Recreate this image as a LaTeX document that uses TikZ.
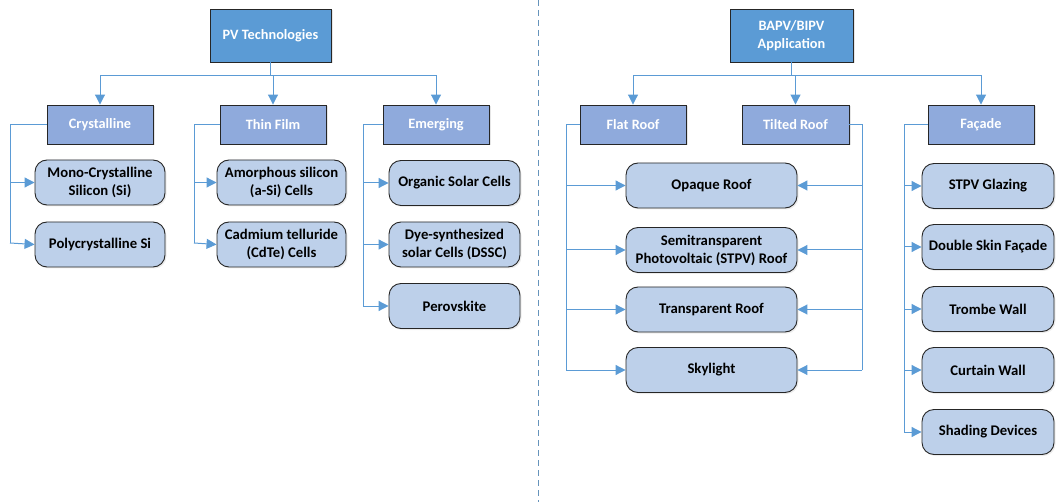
\documentclass[tikz,border=0pt]{standalone}
\usepackage{fontspec}
\setmainfont{Carlito}
\usetikzlibrary{arrows.meta,shadows}
\definecolor{topblue}{HTML}{5B9BD5}
\definecolor{catblue}{HTML}{8FAADC}
\definecolor{leafblue}{HTML}{BDD0EA}
\definecolor{linkblue}{HTML}{5B9BD5}
\begin{document}
\begin{tikzpicture}[x=1pt,y=-1pt,
  every node/.style={font=\fontsize{14.3}{18}\selectfont\bfseries},
  topbox/.style={draw=black!85,line width=0.9pt,fill=topblue,text=white,minimum width=121pt,minimum height=53pt,align=center,drop shadow={opacity=0.2,shadow xshift=1.5pt,shadow yshift=-1.5pt}},
  catbox/.style={draw=black!85,line width=0.9pt,fill=catblue,text=white,minimum width=106pt,minimum height=39pt,drop shadow={opacity=0.2,shadow xshift=1.5pt,shadow yshift=-1.5pt}},
  leafbox/.style={draw=black!85,line width=0.9pt,fill=leafblue,text=black,rounded corners=12pt,minimum height=45pt,inner xsep=2pt,align=center,font=\fontsize{14.7}{18}\selectfont\bfseries,drop shadow={opacity=0.15,shadow xshift=1.5pt,shadow yshift=-1.5pt}},
  link/.style={draw=linkblue,line width=1pt},
  arr/.style={link,-{Triangle[length=10pt,width=10pt]}}
]
\useasboundingbox (0,0) rectangle (1056,502);
\draw[linkblue!70!gray,dashed,line width=0.8pt,dash pattern=on 6pt off 4pt] (538,0) -- (538,502);

% ---------- left tree ----------
\node[topbox] (pv) at (270.5,35.5) {PV Technologies};
\node[catbox] (cry) at (100,124.5) {Crystalline};
\node[catbox] (thin) at (273,124.5) {Thin Film};
\node[catbox] (eme) at (436,124.5) {Emerging};

\node[leafbox,minimum width=130pt] (mono) at (100,182.5) {Mono-Crystalline\\Silicon (Si)};
\node[leafbox,minimum width=130pt] (poly) at (100,244.5) {Polycrystalline Si};
\node[leafbox,minimum width=129pt] (amor) at (281.5,182.5) {Amorphous silicon\\(a-Si) Cells};
\node[leafbox,minimum width=129pt] (cdte) at (281.5,244.5) {Cadmium telluride\\(CdTe) Cells};
\node[leafbox,minimum width=131pt] (org) at (454.5,183) {Organic Solar Cells};
\node[leafbox,minimum width=131pt] (dye) at (454.5,244.5) {Dye-synthesized\\solar Cells (DSSC)};
\node[leafbox,minimum width=131pt] (per) at (454.5,306) {Perovskite};

\draw[link] (pv.south) -- (270.5,76) coordinate (pvb);
\draw[arr] (pvb) -| (cry.north);
\draw[arr] (pvb) -| (thin.north);
\draw[arr] (pvb) -| (eme.north);

\draw[link] (cry.west) -| (10,243) coordinate (cryb);
\draw[arr] (10,124.5) |- (mono.west);
\draw[arr] (cryb) -- (poly.west);

\draw[link] (thin.west) -| (194,243) coordinate (thinb);
\draw[arr] (194,124.5) |- (amor.west);
\draw[arr] (thinb) -- (cdte.west);

\draw[link] (eme.west) -| (363,306) coordinate (emeb);
\draw[arr] (363,124.5) |- (org.west);
\draw[arr] (363,124.5) |- (dye.west);
\draw[arr] (emeb) -- (per.west);

% ---------- right tree ----------
\node[topbox,minimum width=123pt] (bapv) at (791.5,35.5) {BAPV/BIPV\\Application};
\node[catbox] (flat) at (633,124.5) {Flat Roof};
\node[catbox,minimum width=107pt] (tilt) at (795.5,124.5) {Tilted Roof};
\node[catbox] (fac) at (981,124.5) {Façade};

\node[leafbox,minimum width=171pt] (opq) at (711.5,185.5) {Opaque Roof};
\node[leafbox,minimum width=171pt] (semi) at (711.5,250) {Semitransparent\\Photovoltaic (STPV) Roof};
\node[leafbox,minimum width=171pt] (trans) at (711.5,309.5) {Transparent Roof};
\node[leafbox,minimum width=171pt] (sky) at (711.5,370) {Skylight};

\node[leafbox,minimum width=132pt] (stpv) at (988,186) {STPV Glazing};
\node[leafbox,minimum width=132pt] (dsf) at (988,247) {Double Skin Façade};
\node[leafbox,minimum width=132pt] (tw) at (988,309) {Trombe Wall};
\node[leafbox,minimum width=132pt] (cw) at (988,370) {Curtain Wall};
\node[leafbox,minimum width=132pt] (sd) at (988,432) {Shading Devices};

\draw[link] (bapv.south) -- (791.5,76) coordinate (bb);
\draw[arr] (bb) -| (flat.north);
\draw[arr] (bb) -| (tilt.north);
\draw[arr] (bb) -| (fac.north);

\draw[link] (flat.west) -| (566,370) coordinate (flb);
\draw[arr] (566,124.5) |- (opq.west);
\draw[arr] (566,124.5) |- (semi.west);
\draw[arr] (566,124.5) |- (trans.west);
\draw[arr] (flb) -- (sky.west);

\draw[link] (tilt.east) -| (862,370) coordinate (tlb);
\draw[arr] (862,124.5) |- (opq.east);
\draw[arr] (862,124.5) |- (semi.east);
\draw[arr] (862,124.5) |- (trans.east);
\draw[arr] (tlb) -- (sky.east);

\draw[link] (fac.west) -| (904,432) coordinate (fcb);
\draw[arr] (904,124.5) |- (stpv.west);
\draw[arr] (904,124.5) |- (dsf.west);
\draw[arr] (904,124.5) |- (tw.west);
\draw[arr] (904,124.5) |- (cw.west);
\draw[arr] (fcb) -- (sd.west);
\end{tikzpicture}
\end{document}
